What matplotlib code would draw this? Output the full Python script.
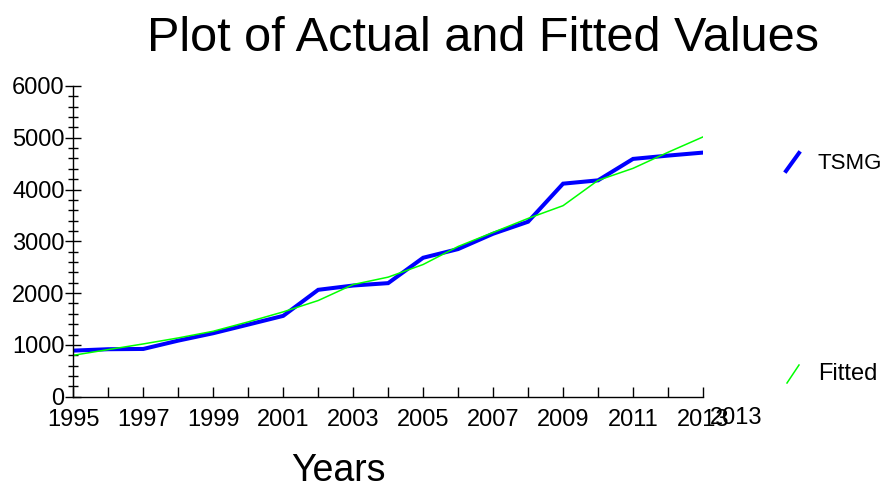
import matplotlib
matplotlib.use("Agg")
import matplotlib.pyplot as plt
from matplotlib.ticker import MultipleLocator
from matplotlib.lines import Line2D

plt.rcParams['font.family'] = ['Liberation Sans', 'DejaVu Sans']

years = list(range(1995, 2014))
tsmg = [890, 917, 922, 1083, 1226, 1393, 1561, 2064, 2147, 2193,
        2683, 2851, 3147, 3379, 4114, 4178, 4592, 4656, 4714]
fitted = [800, 910, 1019, 1135, 1264, 1445, 1638, 1857, 2166, 2309,
          2553, 2901, 3172, 3443, 3689, 4178, 4410, 4720, 5017]
xtick_labels = [str(y) for y in range(1995, 2014, 2)]

fig = plt.figure(figsize=(8.85, 4.86), dpi=100)
ax = fig.add_axes([73.3/885, 1-396.7/486, (703-73.3)/885, (396.7-86)/486])

ax.plot(years, tsmg, color='#0000ff', lw=2.9, solid_joinstyle='miter')
ax.plot(years, fitted, color='#00ff00', lw=1.1)

ax.set_xlim(1995, 2013)
ax.set_ylim(0, 6000)
for s in ['top', 'right']:
    ax.spines[s].set_visible(False)
for s in ['left', 'bottom']:
    ax.spines[s].set_linewidth(1.0)

ax.set_xticks(range(1995, 2014))
ax.set_xticklabels([str(y) if (y - 1995) % 2 == 0 else '' for y in range(1995, 2014)])
ax.tick_params(axis='x', direction='in', length=7, width=1, labelsize=17, pad=8.5)
ax.yaxis.set_major_locator(MultipleLocator(1000))
ax.yaxis.set_minor_locator(MultipleLocator(200))
ax.tick_params(axis='y', which='major', direction='inout', length=12, width=1, labelsize=17, pad=0.2)
ax.tick_params(axis='y', which='minor', direction='inout', length=7, width=1)

ax.text(2013.95, -420, '2013', fontsize=17, ha='center', va='center')

fig.text(0.546, 0.92, 'Plot of Actual and Fitted Values', fontsize=35, ha='center', va='center')
fig.text(0.382, 0.031, 'Years', fontsize=27, ha='center', va='center')

# legend entries
fig.add_artist(Line2D([786/885, 799/885], [1-171/486, 1-153/486], color='#0000ff', lw=2.9))
fig.text(818/885, 1-163/486, 'TSMG', fontsize=16, ha='left', va='center')
fig.add_artist(Line2D([787/885, 799/885], [1-383/486, 1-365/486], color='#00ff00', lw=1.1))
fig.text(818/885, 1-374/486, 'Fitted', fontsize=17, ha='left', va='center')

fig.savefig('out.png', dpi=100)
